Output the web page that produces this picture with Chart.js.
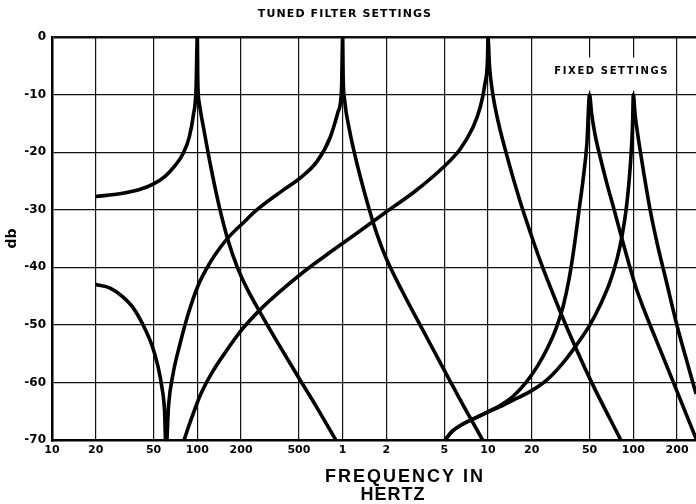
<!DOCTYPE html>
<html>
<head>
<meta charset="utf-8">
<script src="https://cdn.jsdelivr.net/npm/chart.js@4.4.0/dist/chart.umd.min.js"></script>
<style>
html, body { margin: 0; padding: 0; background: #fff; }
#wrap { width: 696px; height: 504px; }
</style>
</head>
<body>
<div id="wrap"><canvas id="filterChart" width="696" height="504"></canvas></div>
<script>
// tuned filter, 100 Hz
var freq100 = [20, 30, 40, 50, 60, 70, 80, 88, 94, 98, 100, 100.8, 103.2, 111.7, 124.8, 141.7, 163.5, 188.6, 220.8, 258.9, 355.5, 487.9, 669.9, 897];
var db100 = [-27.7, -27.2, -26.5, -25.5, -24.2, -22.4, -20.2, -17.4, -13.5, -9, 0, -8, -11.5, -16.5, -23, -29.5, -35.5, -40, -43.8, -47, -53, -58.8, -64.5, -70];

// tuned filter, 1 kHz (with the 60 Hz notch)
var freq1k = [20, 25.1, 30.3, 36.1, 42.3, 48.8, 53.6, 57.2, 59.5, 60.9, 63.4, 68.1, 76, 86.3, 101.1, 122.3, 143.3, 167.9, 206.3, 257.5, 388.9, 509, 666.6, 819, 929.6, 982.7, 1000, 1008, 1032, 1117, 1209, 1339, 1526, 1741, 1989, 2588, 3667, 5010, 6697, 9185];
var db1k = [-43, -43.6, -45, -47, -50, -53.6, -57.2, -61, -65, -72, -64, -58.5, -53.3, -48.2, -43.2, -39.2, -36.6, -34.5, -32.3, -30, -26.6, -24.5, -21.6, -17.5, -13, -9, 0, -7, -11, -16.3, -20.3, -24.8, -30, -34.6, -38.4, -44.3, -51.5, -57.9, -63.8, -70];

// tuned filter, 10 kHz
var freq10k = [81, 91.9, 104.4, 126.2, 157.6, 203, 270, 370.9, 551, 819, 1217, 1989, 3150, 4988, 6427, 7775, 8821, 9550, 9936, 10000, 10240, 10655, 11425, 13386, 16523, 20396, 23287, 31998, 36477, 50093, 82772];
var db10k = [-70, -66, -62.3, -58.3, -54.6, -50.8, -47.4, -44.2, -40.6, -37.4, -34.3, -30.4, -26.8, -22.5, -19.5, -16, -12.3, -8, -3.5, 0, -5, -9, -13.3, -20.3, -28.3, -35.3, -39.4, -48.2, -51.6, -59.3, -70.2];

// fixed setting, 50 kHz
var freqFix50 = [5067, 5663, 6634, 8152, 10016, 12112, 14888, 18295, 22122, 25922, 29425, 32879, 36150, 39140, 42362, 45500, 47930, 50000, 51640, 54590, 59090, 66030, 73800, 82420, 92830, 104500, 118700, 134700, 162900, 200200, 270500];
var dbFix50 = [-70, -68.5, -67.3, -66.2, -65.1, -64, -62.4, -60, -57, -53.8, -50.6, -46.8, -42, -36.5, -30, -24, -18.5, -10, -13.3, -17, -20.8, -25.6, -30, -34.5, -39.2, -43.6, -47.4, -50.9, -56, -61.6, -69.8];

// fixed setting, 100 kHz
var freqFix100 = [5067, 5663, 6634, 8152, 10016, 12112, 15370, 19480, 25110, 31860, 40410, 50040, 59090, 69230, 77370, 83720, 89210, 93560, 96700, 98900, 100000, 102900, 107100, 112300, 118700, 130500, 145800, 168200, 200200, 234600, 270500];
var dbFix100 = [-70, -68.5, -67.3, -66.2, -65.1, -64.2, -62.9, -61.6, -59.7, -57, -53.6, -50.1, -46.6, -42.5, -38.5, -34.5, -30, -25, -20, -15, -10, -13.5, -16.8, -20.2, -24, -30, -35.8, -42.3, -50.2, -56.5, -62];

var xTicks = [10, 20, 50, 100, 200, 500, 1000, 2000, 5000, 10000, 20000, 50000, 100000, 200000];
var yTicks = [0, -10, -20, -30, -40, -50, -60, -70];

function toPoints(f, d) {
  var out = [];
  for (var i = 0; i < f.length; i++) out.push({ x: f[i], y: d[i] });
  return out;
}

function curve(f, d) {
  return {
    data: toPoints(f, d),
    borderColor: '#000',
    borderWidth: 3.6,
    pointRadius: 0,
    fill: false,
    cubicInterpolationMode: 'monotone'
  };
}

var captions = {
  id: 'captions',
  afterDraw: function (chart) {
    var ctx = chart.ctx;
    var xs = chart.scales.x, ys = chart.scales.y, area = chart.chartArea;
    ctx.save();
    ctx.fillStyle = '#000';
    ctx.textAlign = 'center';
    ctx.textBaseline = 'middle';

    ctx.font = 'bold 11px "DejaVu Sans"';
    ctx.letterSpacing = '1.1px';
    ctx.fillText('TUNED FILTER SETTINGS', 345, 14);

    // label box over the grid
    var fx = xs.getPixelForValue(71000), fy = ys.getPixelForValue(-6);
    ctx.fillStyle = '#fff';
    ctx.fillRect(fx - 62, fy - 14, 124, 33);
    ctx.fillStyle = '#000';
    ctx.font = 'bold 10px "DejaVu Sans"';
    ctx.letterSpacing = '1.6px';
    ctx.fillText('FIXED SETTINGS', fx, fy);

    ctx.font = 'bold 18px "Liberation Sans"';
    ctx.letterSpacing = '2px';
    ctx.fillText('FREQUENCY IN', 405, area.bottom + 37);
    ctx.letterSpacing = '1px';
    ctx.fillText('HERTZ', 393, area.bottom + 55);
    ctx.restore();
  }
};

var ctx = document.getElementById('filterChart');
var filterChart = new Chart(ctx, {
  type: 'line',
  data: {
    datasets: [
      curve(freq100, db100),
      curve(freq1k, db1k),
      curve(freq10k, db10k),
      curve(freqFix50, dbFix50),
      curve(freqFix100, dbFix100)
    ]
  },
  plugins: [captions],
  options: {
    responsive: false,
    animation: false,
    devicePixelRatio: 1,
    layout: { padding: { top: 37, right: 0, left: 0, bottom: 0 } },
    plugins: {
      legend: { display: false },
      tooltip: { enabled: false },
      title: { display: false }
    },
    scales: {
      x: {
        type: 'logarithmic',
        min: 10,
        max: 270000,
        afterBuildTicks: function (axis) {
          axis.ticks = xTicks.map(function (v) { return { value: v }; });
        },
        afterFit: function (axis) { axis.height = 64; },
        ticks: {
          autoSkip: false,
          maxRotation: 0,
          padding: 4,
          color: '#000',
          font: { family: 'DejaVu Sans', size: 11, weight: 'bold' },
          callback: function (v) { return v >= 1000 ? v / 1000 : v; }
        },
        grid: { color: '#111', lineWidth: 1.2, drawTicks: false },
        border: { display: true, color: '#000', width: 2.5 }
      },
      y: {
        min: -70,
        max: 0,
        afterBuildTicks: function (axis) {
          axis.ticks = yTicks.map(function (v) { return { value: v }; });
        },
        afterFit: function (axis) { axis.width = 52; },
        ticks: {
          padding: 6,
          color: '#000',
          font: { family: 'DejaVu Sans', size: 12, weight: 'bold' }
        },
        grid: {
          color: '#111',
          drawTicks: false,
          lineWidth: function (c) { return c.tick && c.tick.value === 0 ? 2.5 : 1.2; }
        },
        border: { display: true, color: '#000', width: 2.5 },
        title: {
          display: true,
          text: 'db',
          color: '#000',
          font: { family: 'DejaVu Sans', size: 14, weight: 'bold' },
          padding: { top: 4, bottom: 0 }
        }
      }
    }
  }
});
</script>
</body>
</html>
